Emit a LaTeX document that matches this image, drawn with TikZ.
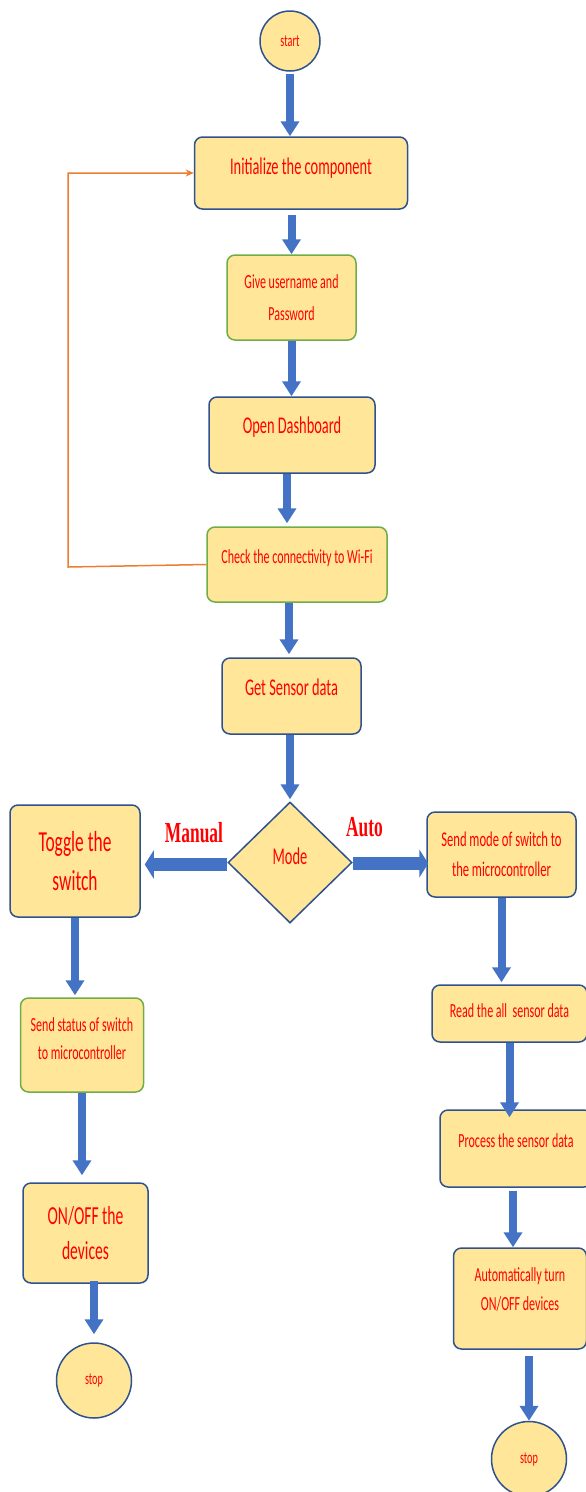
\documentclass[tikz,border=0pt]{standalone}
\usepackage{fontspec}
\setmainfont{Carlito}[FakeStretch=0.6]
\newfontfamily\branchfont{Liberation Serif}[FakeStretch=0.6]
\usetikzlibrary{shapes.geometric,arrows.meta}
\definecolor{boxfill}{HTML}{FFE699}
\definecolor{boxline}{HTML}{2F528F}
\definecolor{greenline}{HTML}{70AD47}
\definecolor{arrowblue}{HTML}{4472C4}
\definecolor{loopline}{HTML}{ED7D31}
\definecolor{textred}{HTML}{FF0000}
\tikzset{
  box/.style={draw=boxline, fill=boxfill, line width=1.5pt, rounded corners=8pt,
    text=textred, align=center, inner sep=0pt},
  gbox/.style={box, draw=greenline},
  term/.style={circle, draw=boxline, fill=boxfill, line width=1.5pt, text=textred,
    inner sep=0pt, font=\fontsize{17}{18}\selectfont},
  flow/.style={draw=arrowblue, line width=8pt, -{Triangle[width=18pt,length=15pt]}},
  sideflow/.style={draw=arrowblue, line width=13pt, -{Triangle[width=28pt,length=9pt]}},
  back/.style={draw=loopline, line width=1.5pt, -{Stealth[length=8pt,width=7pt]}},
  branch/.style={text=textred, anchor=base, font=\branchfont\bfseries\fontsize{29}{30}\selectfont}
}
\begin{document}
\begin{tikzpicture}[x=1pt,y=-1pt]
  \useasboundingbox (0,0) rectangle (586,1492);
  % middle column
  \node[term, minimum size=60pt] (start) at (290,41) {start};
  \node[box, minimum width=213pt, minimum height=72pt, font=\fontsize{24}{30}\selectfont,
    text height=18pt, text depth=16pt] (init) at (301,173) {Initialize the component};
  \node[gbox, minimum width=129pt, minimum height=85pt, font=\fontsize{20}{32}\selectfont]
    (give) at (291.5,297.5) {Give username and\\Password};
  \node[box, minimum width=166pt, minimum height=76pt, font=\fontsize{24}{30}\selectfont,
    text height=18pt, text depth=22pt] (open) at (292,435) {Open Dashboard};
  \node[gbox, minimum width=180pt, minimum height=75pt, font=\fontsize{20}{26}\selectfont,
    text height=15pt, text depth=18pt] (check) at (297,564.5) {Check the connectivity to Wi-Fi};
  \node[box, minimum width=139pt, minimum height=76pt, font=\fontsize{24}{30}\selectfont,
    text height=18pt, text depth=20pt] (get) at (291.5,696) {Get Sensor data};
  \node[diamond, aspect=1.03, draw=boxline, fill=boxfill, line width=1.5pt, text=textred,
    inner sep=0pt, minimum width=124pt, minimum height=121pt, font=\fontsize{24}{30}\selectfont,
    text height=18pt, text depth=14pt] (mode) at (290,862.5) {Mode};
  % manual side
  \node[box, minimum width=130pt, minimum height=112pt, font=\fontsize{29}{39}\selectfont]
    (toggle) at (75,861) {Toggle the\\switch};
  \node[gbox, minimum width=123pt, minimum height=94pt, font=\fontsize{20}{28}\selectfont,
    text depth=12pt] (status) at (82,1045) {Send status of switch\\to microcontroller};
  \node[box, minimum width=125pt, minimum height=100pt, font=\fontsize{26}{35}\selectfont]
    (onoff) at (85.5,1233) {ON/OFF the\\devices};
  \node[term, minimum size=75pt] (stopL) at (94,1380.5) {stop};
  % auto side
  \node[box, minimum width=149pt, minimum height=85pt, font=\fontsize{21}{30}\selectfont]
    (sendmode) at (501.5,854.5) {Send mode of switch to\\the microcontroller};
  \node[box, minimum width=155pt, minimum height=57pt, font=\fontsize{20}{26}\selectfont,
    text height=15pt, text depth=8pt] (read) at (509.5,1013.5) {Read the all\ \ sensor data};
  \node[box, minimum width=152pt, minimum height=77pt, font=\fontsize{20}{26}\selectfont,
    text height=15pt, text depth=18pt] (process) at (516,1148.5) {Process the sensor data};
  \node[box, minimum width=133pt, minimum height=101pt, font=\fontsize{20}{29}\selectfont,
    text depth=18pt] (auto) at (520,1298.5) {Automatically turn\\ON/OFF devices};
  \node[term, minimum size=75pt] (stopR) at (529,1459) {stop};
  % branch labels
  \node[branch] (manual) at (194,842) {Manual};
  \node[branch] (autolbl) at (364.5,836) {Auto};
  % main flow
  \draw[flow, shorten <=2pt] (start) -- (start |- init.north);
  \draw[flow, shorten <=5pt] (give.north |- init.south) -- (give.north);
  \draw[flow] (give.south) -- (give.south |- open.north);
  \draw[flow, shorten >=3pt] ([xshift=-5pt]open.south) -- ([xshift=-5pt]open.south |- check.north);
  \draw[flow, shorten >=3pt] ([xshift=-2.5pt]get.north |- check.south) -- ([xshift=-2.5pt]get.north);
  \draw[flow, shorten >=2pt] (mode.north |- get.south) -- (mode.north);
  \draw[sideflow, shorten >=4pt] ([yshift=-2pt]mode.west) -- ([yshift=-2pt]mode.west -| toggle.east);
  \draw[sideflow, shorten >=-2pt] ([yshift=-1pt]mode.east) -- ([yshift=-1pt]mode.east -| sendmode.west);
  \draw[flow, shorten >=2pt] (toggle.south) -- (toggle.south |- status.north);
  \draw[flow, shorten >=7pt] (status.south) -- (status.south |- onoff.north);
  \draw[flow, shorten <=-3pt, shorten >=8pt] (stopL.north |- onoff.south) -- (stopL.north);
  \draw[flow, shorten >=2pt] (sendmode.south) -- (sendmode.south |- read.north);
  \draw[flow, shorten >=-8pt] (read.south) -- (read.south |- process.north);
  \draw[flow, shorten <=3pt] ([xshift=-3pt]process.south) -- ([xshift=-3pt]process.south |- auto.north);
  \draw[flow, shorten <=6pt] (stopR.north |- auto.south) -- (stopR.north);
  % wifi loop back
  \coordinate (turn) at (68,567);
  \draw[back] (check.west) -- (turn) |- (init.west);
\end{tikzpicture}
\end{document}
